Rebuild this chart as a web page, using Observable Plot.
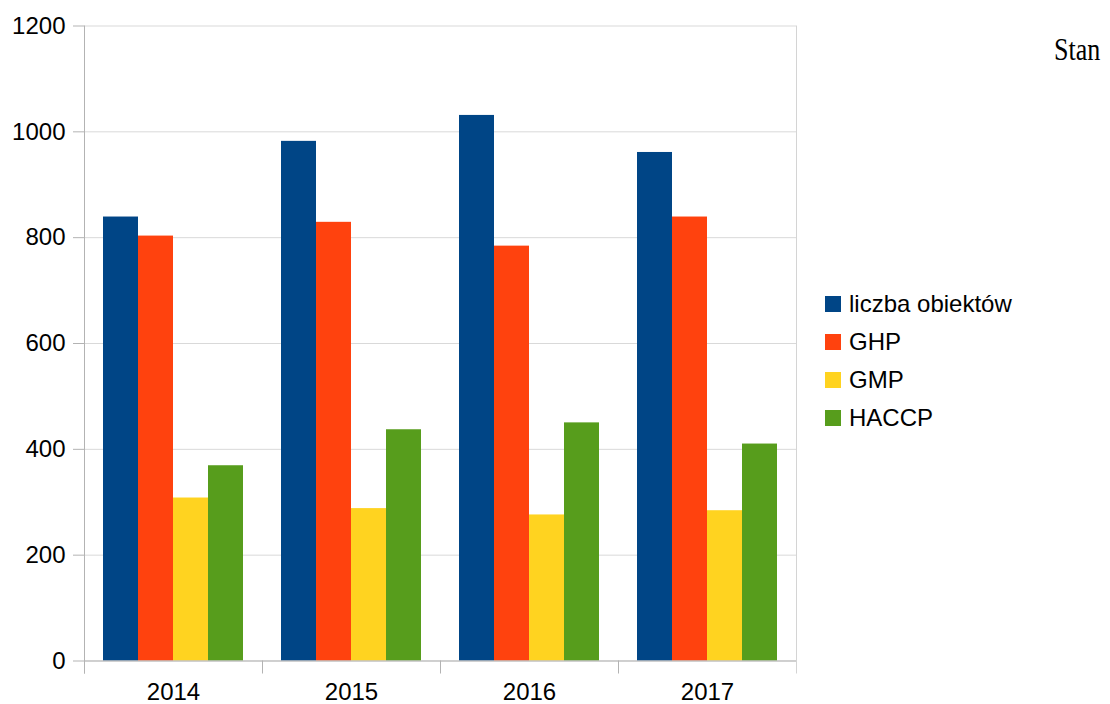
<!DOCTYPE html>
<html>
<head>
<meta charset="utf-8">
<script src="https://cdn.jsdelivr.net/npm/d3@7"></script>
<script src="https://cdn.jsdelivr.net/npm/@observablehq/plot@0.6"></script>
<style>
  html, body { margin: 0; padding: 0; background: #fff; }
  #wrap { position: relative; width: 1110px; height: 704px; overflow: hidden; }
  #legend { position: absolute; left: 825px; top: 285px; font-family: "Liberation Sans", Arial, sans-serif; font-size: 24px; color: #000; }
  .row { display: flex; align-items: center; height: 38px; }
  .sw { width: 16px; height: 16px; margin-right: 8px; }
  #stan { position: absolute; left: 1054px; top: 34px; font-family: "Liberation Serif", "Times New Roman", serif; font-size: 31px; line-height: 1; color: #000; transform: scaleX(0.84); transform-origin: left top; }
</style>
</head>
<body>
<div id="wrap">
  <div id="chart"></div>
  <div id="legend"></div>
  <div id="stan">Stan</div>
</div>
<script>
const years = ["2014", "2015", "2016", "2017"];
const series = ["liczba obiektów", "GHP", "GMP", "HACCP"];
const colors = ["#004586", "#ff420e", "#ffd320", "#579d1c"];
const liczbaObiektow = [839, 982, 1031, 961];
const ghp = [803, 829, 784, 839];
const gmp = [308, 288, 276, 284];
const haccp = [369, 437, 450, 410];
const yTicks = [0, 200, 400, 600, 800, 1000, 1200];

const seriesValues = [liczbaObiektow, ghp, gmp, haccp];
const data = [];
years.forEach((y, i) => series.forEach((s, j) => data.push({year: y, series: s, value: seriesValues[j][i]})));

const plot = Plot.plot({
  width: 1110,
  height: 704,
  marginLeft: 84,
  marginRight: 314,
  marginTop: 25.5,
  marginBottom: 43.5,
  style: {fontFamily: "Liberation Sans, Arial, sans-serif", fontSize: "24px", color: "#000", background: "#fff"},
  fx: {domain: years, padding: 0, label: null, axis: null},
  x: {domain: series, paddingInner: 0, paddingOuter: 0.5, axis: null},
  y: {domain: [0, 1200], ticks: yTicks, label: null, axis: null},
  color: {domain: series, range: colors},
  marks: [
    Plot.gridY(yTicks, {stroke: "#d9d9d9", strokeOpacity: 1}),
    Plot.barY(data, {fx: "year", x: "series", y: "value", fill: "series"}),
    Plot.ruleY([0], {stroke: "#b3b3b3"}),
    Plot.frame({anchor: "left", facetAnchor: "left", stroke: "#b3b3b3", insetBottom: -12}),
    Plot.frame({anchor: "right", facetAnchor: "right", stroke: "#d4d4d4", insetBottom: -12}),
    Plot.frame({anchor: "left", stroke: "#b3b3b3", insetTop: 635, insetBottom: -12}),
    Plot.axisY(yTicks, {tickSize: 11, tickPadding: 8, stroke: "#b3b3b3", fill: "#000", fontSize: 24, label: null, tickFormat: d => String(d)}),
    Plot.axisFx({anchor: "bottom", tickSize: 0, tickPadding: 22, fill: "#000", fontSize: 24, label: null})
  ]
});
document.getElementById("chart").appendChild(plot);

const legend = document.getElementById("legend");
series.forEach((s, i) => {
  const row = document.createElement("div");
  row.className = "row";
  const sw = document.createElement("div");
  sw.className = "sw";
  sw.style.background = colors[i];
  const t = document.createElement("span");
  t.textContent = s;
  row.appendChild(sw);
  row.appendChild(t);
  legend.appendChild(row);
});
</script>
</body>
</html>
